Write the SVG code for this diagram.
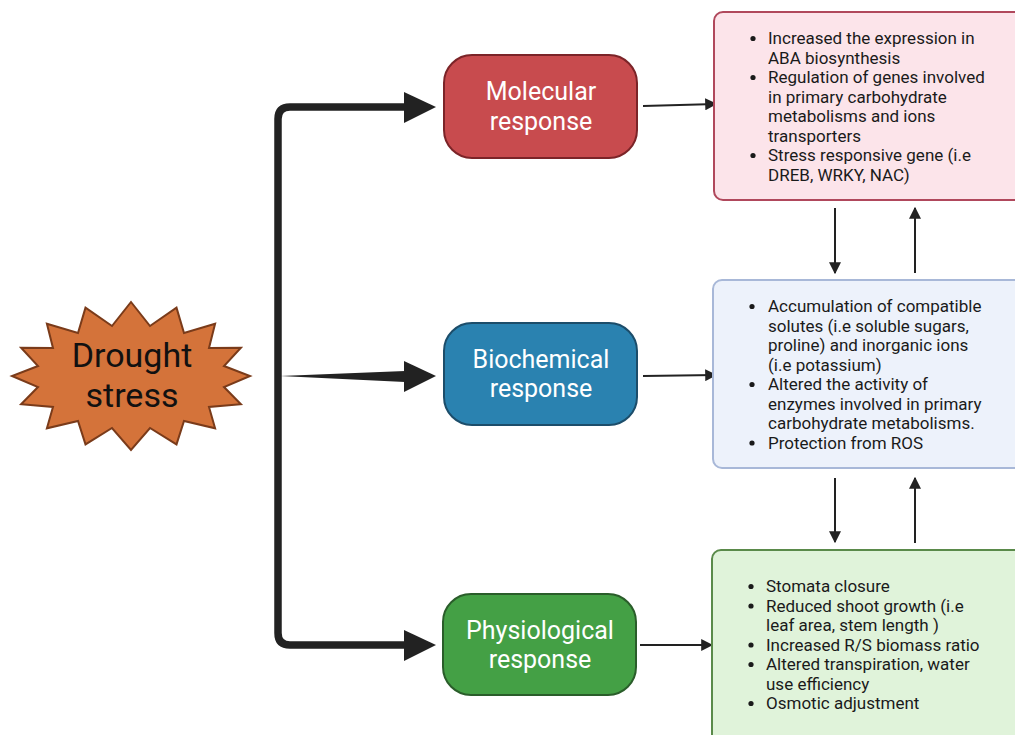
<svg xmlns="http://www.w3.org/2000/svg" width="1015" height="735" viewBox="0 0 1015 735">
<defs>
<style>
.resp{font-family:Roboto,"Liberation Sans",sans-serif;font-size:25px;fill:#ffffff;text-anchor:middle}
.item{font-family:Roboto,"Liberation Sans",sans-serif;font-size:17px;fill:#1a1a1a}
.dot{fill:#1a1a1a}
.thick{fill:none;stroke:#222222;stroke-width:7.5;stroke-linejoin:round}
.thin{fill:none;stroke:#222222;stroke-width:2}
</style>
<marker id="ah" viewBox="0 0 10 10" refX="9" refY="5" markerWidth="6" markerHeight="6" markerUnits="strokeWidth" orient="auto">
<path d="M0,0 L10,5 L0,10 Z" fill="#222222"/>
</marker>
</defs>
<rect width="1015" height="735" fill="#ffffff"/>

<g id="connectors">
<path class="thick" d="M406,107 L290,107 Q278,107 278,119 L278,633 Q278,645 290,645 L406,645"/>
<polygon points="404,92 436,107 404,123" fill="#222222"/>
<polygon points="404,630 436,645 404,661" fill="#222222"/>
<polygon points="280,376 405,371 405,382" fill="#222222"/>
<polygon points="404,361 436,376 404,392" fill="#222222"/>
<path class="thin" d="M643,106 L716,104" marker-end="url(#ah)"/>
<path class="thin" d="M643,376 L716,375" marker-end="url(#ah)"/>
<path class="thin" d="M640,645 L712,645" marker-end="url(#ah)"/>
<path class="thin" d="M835,208 L835,273" marker-end="url(#ah)"/>
<path class="thin" d="M915,273 L915,208" marker-end="url(#ah)"/>
<path class="thin" d="M835,478 L835,542" marker-end="url(#ah)"/>
<path class="thin" d="M915,543 L915,478" marker-end="url(#ah)"/>
</g>

<g id="drought">
<polygon fill="#d4733a" stroke="#7a3b1a" stroke-width="2" stroke-linejoin="miter" points="131,302 150,326 176.5,307.6 184,333 215.1,323.7 209,348 240.9,347.7 224,366 250,376 224,387 240.9,404.3 209,407 215.1,428.3 184,421 176.5,444.4 150,428 131,450 112,428 85.5,444.4 78,421 46.9,428.3 53,407 21.1,404.3 38,387 12,376 38,366 21.1,347.7 53,348 46.9,323.7 78,333 85.5,307.6 112,326"/>
<text x="132" y="367" font-family="Roboto,'Liberation Sans',sans-serif" font-size="34" fill="#111111" text-anchor="middle">Drought</text>
<text x="132" y="407" font-family="Roboto,'Liberation Sans',sans-serif" font-size="34" fill="#111111" text-anchor="middle">stress</text>
</g>

<g id="molecular">
<rect x="444" y="55" width="193" height="103" rx="28" fill="#c84b4e" stroke="#7b2428" stroke-width="2"/>
<text class="resp" x="541" y="100">Molecular</text>
<text class="resp" x="541" y="130">response</text>
</g>

<g id="biochemical">
<rect x="444" y="323" width="193" height="102" rx="28" fill="#2a82b0" stroke="#1c4d6a" stroke-width="2"/>
<text class="resp" x="541" y="368">Biochemical</text>
<text class="resp" x="541" y="397">response</text>
</g>

<g id="physiological">
<rect x="443" y="594" width="193" height="101" rx="28" fill="#44a045" stroke="#2a5d2a" stroke-width="2"/>
<text class="resp" x="540" y="639">Physiological</text>
<text class="resp" x="540" y="668">response</text>
</g>

<g id="molecular-details">
<rect x="714" y="12" width="320" height="188" rx="9" fill="#fce4ea" stroke="#b0485c" stroke-width="2"/>
<circle class="dot" cx="753" cy="38.5" r="2.6"/>
<circle class="dot" cx="753" cy="77.5" r="2.6"/>
<circle class="dot" cx="753" cy="155.5" r="2.6"/>
<g class="item">
<text x="768" y="44">Increased the expression in</text>
<text x="768" y="63.5">ABA biosynthesis</text>
<text x="768" y="83">Regulation of genes involved</text>
<text x="768" y="102.5">in primary carbohydrate</text>
<text x="768" y="122">metabolisms and ions</text>
<text x="768" y="141.5">transporters</text>
<text x="768" y="161">Stress responsive gene (i.e</text>
<text x="768" y="180.5">DREB, WRKY, NAC)</text>
</g>
</g>

<g id="biochemical-details">
<rect x="713" y="280" width="320" height="188" rx="9" fill="#edf2fb" stroke="#a8b8d8" stroke-width="2"/>
<circle class="dot" cx="752" cy="306.5" r="2.6"/>
<circle class="dot" cx="752" cy="384.5" r="2.6"/>
<circle class="dot" cx="752" cy="443" r="2.6"/>
<g class="item">
<text x="768" y="312">Accumulation of compatible</text>
<text x="768" y="331.5">solutes (i.e soluble sugars,</text>
<text x="768" y="351">proline) and inorganic ions</text>
<text x="768" y="370.5">(i.e potassium)</text>
<text x="768" y="390">Altered the activity of</text>
<text x="768" y="409.5">enzymes involved in primary</text>
<text x="768" y="429">carbohydrate metabolisms.</text>
<text x="768" y="448.5">Protection from ROS</text>
</g>
</g>

<g id="physiological-details">
<rect x="712" y="550" width="320" height="200" rx="9" fill="#e0f3da" stroke="#5a8a4a" stroke-width="2"/>
<circle class="dot" cx="751" cy="586.5" r="2.6"/>
<circle class="dot" cx="751" cy="606" r="2.6"/>
<circle class="dot" cx="751" cy="645" r="2.6"/>
<circle class="dot" cx="751" cy="664.5" r="2.6"/>
<circle class="dot" cx="751" cy="703.5" r="2.6"/>
<g class="item">
<text x="766" y="592">Stomata closure</text>
<text x="766" y="611.5">Reduced shoot growth (i.e</text>
<text x="766" y="631">leaf area, stem length )</text>
<text x="766" y="650.5">Increased R/S biomass ratio</text>
<text x="766" y="670">Altered transpiration, water</text>
<text x="766" y="689.5">use efficiency</text>
<text x="766" y="709">Osmotic adjustment</text>
</g>
</g>
</svg>
